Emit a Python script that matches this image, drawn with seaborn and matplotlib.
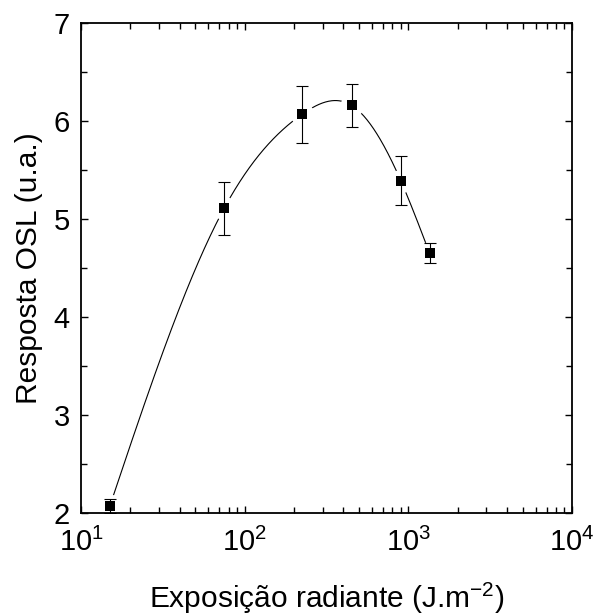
import numpy as np
import matplotlib
matplotlib.use("Agg")
import matplotlib.pyplot as plt
import seaborn as sns
from matplotlib.ticker import LogLocator, MultipleLocator, LogFormatterMathtext, NullFormatter

# Data
exposure = [15, 75, 225, 450, 900, 1350]
response = [2.07, 5.11, 6.07, 6.16, 5.39, 4.65]
error = [0.07, 0.27, 0.29, 0.22, 0.25, 0.10]

sns.set_style("ticks")
plt.rcParams['font.family'] = ['Liberation Sans', 'DejaVu Sans']
plt.rcParams['mathtext.fontset'] = 'custom'
plt.rcParams['mathtext.rm'] = 'Liberation Sans'
plt.rcParams['mathtext.it'] = 'Liberation Sans:italic'
plt.rcParams['mathtext.bf'] = 'Liberation Sans:bold'
plt.rcParams['text.color'] = 'black'
plt.rcParams['axes.labelcolor'] = 'black'


def natural_spline(xk, yk, xs):
    # natural cubic spline through the points (in log10 x)
    xk = np.asarray(xk, float)
    yk = np.asarray(yk, float)
    n = len(xk)
    h = np.diff(xk)
    A = np.zeros((n, n))
    r = np.zeros(n)
    A[0, 0] = 1
    A[-1, -1] = 1
    for i in range(1, n - 1):
        A[i, i - 1] = h[i - 1]
        A[i, i] = 2 * (h[i - 1] + h[i])
        A[i, i + 1] = h[i]
        r[i] = 3 * ((yk[i + 1] - yk[i]) / h[i] - (yk[i] - yk[i - 1]) / h[i - 1])
    c = np.linalg.solve(A, r)
    b = (yk[1:] - yk[:-1]) / h - h * (2 * c[:-1] + c[1:]) / 3
    d = (c[1:] - c[:-1]) / (3 * h)
    idx = np.clip(np.searchsorted(xk, xs) - 1, 0, n - 2)
    t = xs - xk[idx]
    return yk[idx] + b[idx] * t + c[idx] * t ** 2 + d[idx] * t ** 3


logx = np.log10(exposure)
xs = np.linspace(logx[0], logx[-1], 400)
curve_x = 10 ** xs
curve_y = natural_spline(logx, response, xs)

fig = plt.figure(figsize=(5.95, 6.16), dpi=100)
ax = fig.add_axes([0.1361, 0.1672, 0.8252, 0.7955])

sns.lineplot(x=curve_x, y=curve_y, ax=ax, color='black', linewidth=0.8, zorder=1)
# white halo so the line stops short of the markers
ax.plot(exposure, response, linestyle='none', marker='o', markersize=17,
        markerfacecolor='white', markeredgecolor='none', zorder=2)
ax.errorbar(exposure, response, yerr=error, fmt='none', ecolor='black',
            elinewidth=0.8, capsize=4.3, capthick=0.8, zorder=3)
sns.scatterplot(x=exposure, y=response, ax=ax, marker='s', s=45, color='black',
                edgecolor='black', linewidth=0, zorder=4)

ax.set_xscale('log')
ax.set_xlim(10, 1e4)
ax.set_ylim(2, 7)
ax.xaxis.set_major_locator(LogLocator(base=10, numticks=10))
ax.xaxis.set_minor_locator(LogLocator(base=10, subs=np.arange(2, 10), numticks=10))
ax.xaxis.set_major_formatter(LogFormatterMathtext())
ax.xaxis.set_minor_formatter(NullFormatter())
ax.yaxis.set_major_locator(MultipleLocator(1))
ax.yaxis.set_minor_locator(MultipleLocator(0.5))

ax.tick_params(which='both', direction='in', top=True, right=True, width=1,
               colors='black', labelcolor='black')
ax.tick_params(which='major', length=5, labelsize=21)
ax.tick_params(which='minor', length=4)
ax.tick_params(axis='x', which='major', pad=11)
ax.tick_params(axis='y', which='major', pad=8)
for s in ax.spines.values():
    s.set_linewidth(1.3)
    s.set_color('black')

ax.set_xlabel('Exposição radiante (J.m$^{-2}$)', fontsize=21.5, labelpad=17)
ax.set_ylabel('Resposta OSL (u.a.)', fontsize=21.5, labelpad=8)

fig.savefig('out.png', dpi=100)
